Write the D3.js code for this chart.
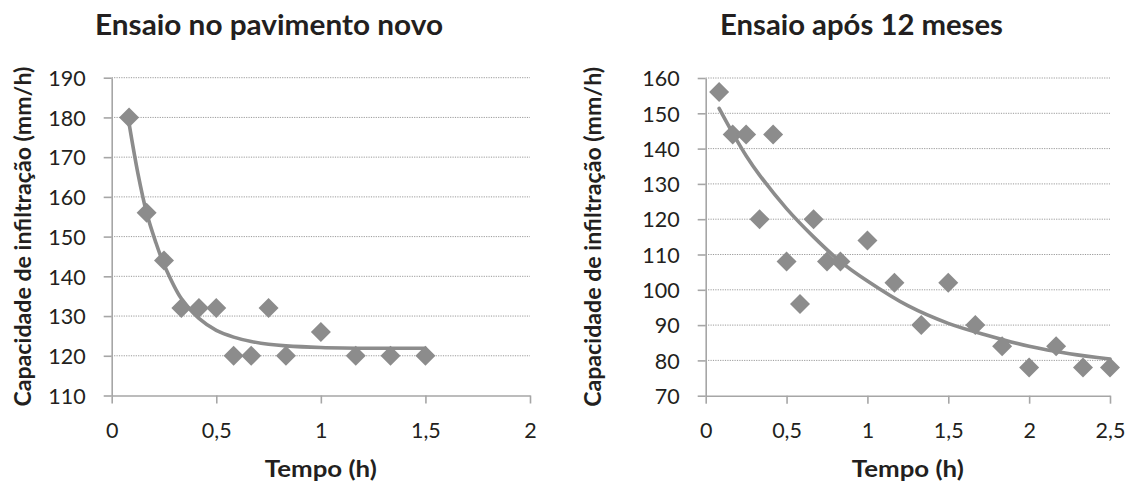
<!DOCTYPE html>
<html>
<head>
<meta charset="utf-8">
<script src="https://cdn.jsdelivr.net/npm/d3@7/dist/d3.min.js"></script>
<style>
  html, body { margin: 0; padding: 0; background: #fff; }
  svg { display: block; font-family: Lato, "Open Sans", sans-serif; }
</style>
</head>
<body>
<svg id="chart" width="1130" height="485"></svg>
<script>
// ---- Data ----
const titleLeft = "Ensaio no pavimento novo";
const titleRight = "Ensaio após 12 meses";
const xTitle = "Tempo (h)";
const yTitle = "Capacidade de infiltração (mm/h)";

// Left chart: new pavement
const leftTime = [0.083, 0.167, 0.25, 0.333, 0.417, 0.5, 0.583, 0.667, 0.75, 0.833, 1.0, 1.167, 1.333, 1.5];
const leftRate = [180, 156, 144, 132, 132, 132, 120, 120, 132, 120, 126, 120, 120, 120];
const leftTrendTime = [0.083, 0.125, 0.167, 0.208, 0.25, 0.333, 0.417, 0.5, 0.583, 0.667, 0.75, 0.833, 1.0, 1.25, 1.5];
const leftTrendRate = [178.5, 166, 156, 149, 143, 134.4, 129.4, 126.4, 124.7, 123.6, 122.9, 122.5, 122.1, 121.9, 121.9];
const leftXTicks = [0, 0.5, 1, 1.5, 2];
const leftYTicks = [110, 120, 130, 140, 150, 160, 170, 180, 190];

// Right chart: after 12 months
const rightTime = [0.083, 0.167, 0.25, 0.333, 0.417, 0.5, 0.583, 0.667, 0.75, 0.833, 1.0, 1.167, 1.333, 1.5, 1.667, 1.833, 2.0, 2.167, 2.333, 2.5];
const rightRate = [156, 144, 144, 120, 144, 108, 96, 120, 108, 108, 114, 102, 90, 102, 90, 84, 78, 84, 78, 78];
const rightTrendTime = [0.083, 0.167, 0.25, 0.333, 0.5, 0.667, 0.833, 1.0, 1.25, 1.5, 1.75, 2.0, 2.25, 2.5];
const rightTrendRate = [151.4, 144.4, 138.0, 132.5, 123.0, 115.0, 108.0, 102.5, 95.5, 90.5, 87.0, 84.0, 81.9, 80.4];
const rightXTicks = [0, 0.5, 1, 1.5, 2, 2.5];
const rightYTicks = [70, 80, 90, 100, 110, 120, 130, 140, 150, 160];

const fmt = v => String(v).replace(".", ",");

const svg = d3.select("#chart");
const TEXT = "#231f20";
const GREY = "#8c8c8c";
const AXIS = "#a6a6a6";

function drawChart(o) {
  const x = d3.scaleLinear().domain([o.xTicks[0], o.xTicks[o.xTicks.length - 1]]).range([o.left, o.right]);
  const y = d3.scaleLinear().domain([o.yTicks[0], o.yTicks[o.yTicks.length - 1]]).range([o.bottom, o.top]);
  const g = svg.append("g");

  // gridlines (dotted)
  g.append("g").selectAll("line").data(o.yTicks.slice(1)).join("line")
    .attr("x1", o.left).attr("x2", o.right)
    .attr("y1", d => y(d)).attr("y2", d => y(d))
    .attr("stroke", "#9a9a9a").attr("stroke-width", 1)
    .attr("stroke-dasharray", "1.2,1.2");

  // y axis
  const ya = g.append("g").attr("transform", `translate(${o.left},0)`)
    .call(d3.axisLeft(y).tickValues(o.yTicks).tickSizeInner(8).tickSizeOuter(0).tickPadding(18).tickFormat(fmt));
  // x axis
  const xa = g.append("g").attr("transform", `translate(0,${o.bottom})`)
    .call(d3.axisBottom(x).tickValues(o.xTicks).tickSizeInner(8).tickSizeOuter(0).tickPadding(0).tickFormat(fmt));
  [ya, xa].forEach(a => {
    a.selectAll("path.domain").attr("stroke", AXIS).attr("stroke-width", 1.6);
    a.selectAll(".tick line").attr("stroke", AXIS).attr("stroke-width", 1.6);
    a.selectAll(".tick text").attr("fill", TEXT).style("font-size", "21.5px").style("font-family", "Lato, sans-serif");
  });
  xa.selectAll(".tick text").attr("y", 34.5).attr("dy", "0.36em");
  ya.selectAll(".tick text").attr("dy", "0.36em");

  // trend line
  const line = d3.line().x(d => x(d[0])).y(d => y(d[1])).curve(d3.curveCatmullRom);
  g.append("path")
    .datum(d3.zip(o.trendX, o.trendY))
    .attr("d", line)
    .attr("fill", "none").attr("stroke", GREY).attr("stroke-width", 3.6)
    .attr("stroke-linecap", "round");

  // diamond markers
  const sym = d3.symbol().type(d3.symbolSquare).size(200);
  g.append("g").selectAll("path").data(d3.zip(o.px, o.py)).join("path")
    .attr("d", sym)
    .attr("transform", d => `translate(${x(d[0])},${y(d[1])}) rotate(45)`)
    .attr("fill", GREY);

  // chart title
  g.append("text").text(o.title)
    .attr("x", o.titleX).attr("y", 35).attr("text-anchor", "middle")
    .attr("fill", TEXT).style("font-weight", "bold").style("font-size", "28px")
    .attr("textLength", o.titleLen).attr("lengthAdjust", "spacingAndGlyphs");

  // x title
  g.append("text").text(xTitle)
    .attr("x", (o.left + o.right) / 2).attr("y", 477).attr("text-anchor", "middle")
    .attr("fill", TEXT).style("font-weight", "bold").style("font-size", "22px")
    .attr("textLength", 112).attr("lengthAdjust", "spacingAndGlyphs");

  // y title
  g.append("text").text(yTitle)
    .attr("transform", `translate(${o.yTitleX},${(o.top + o.bottom) / 2}) rotate(-90)`)
    .attr("text-anchor", "middle")
    .attr("fill", TEXT).style("font-weight", "bold").style("font-size", "22px")
    .attr("textLength", 340).attr("lengthAdjust", "spacingAndGlyphs");
}

drawChart({
  left: 111.7, right: 530, top: 77.7, bottom: 395.5,
  xTicks: leftXTicks, yTicks: leftYTicks,
  px: leftTime, py: leftRate, trendX: leftTrendTime, trendY: leftTrendRate,
  title: titleLeft, titleX: 269, titleLen: 348, yTitleX: 31
});
drawChart({
  left: 705.7, right: 1110, top: 78, bottom: 395.7,
  xTicks: rightXTicks, yTicks: rightYTicks,
  px: rightTime, py: rightRate, trendX: rightTrendTime, trendY: rightTrendRate,
  title: titleRight, titleX: 861.5, titleLen: 283, yTitleX: 601
});
</script>
</body>
</html>
